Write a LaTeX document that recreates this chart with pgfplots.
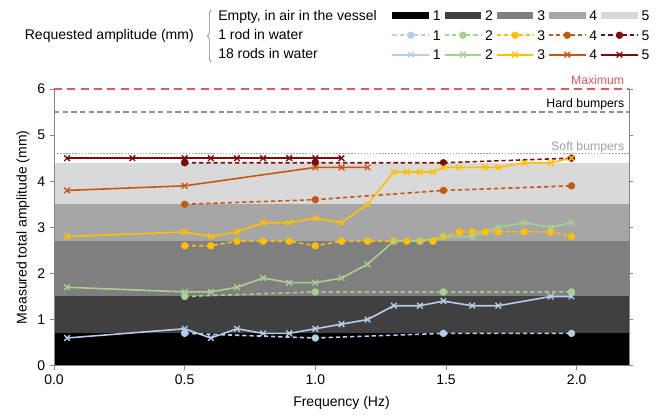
\documentclass[border=0pt]{standalone}
\usepackage{fontspec}
\setmainfont{Liberation Sans}
\usepackage{pgfplots}
\pgfplotsset{compat=1.18}
\usetikzlibrary{decorations.pathreplacing}
\definecolor{s1}{HTML}{B4CDE8}
\definecolor{s2}{HTML}{A9D18E}
\definecolor{s3}{HTML}{FFC000}
\definecolor{s4}{HTML}{C65911}
\definecolor{s5}{HTML}{7B0C0C}
\definecolor{b2}{HTML}{404040}
\definecolor{b3}{HTML}{7F7F7F}
\definecolor{b4}{HTML}{A6A6A6}
\definecolor{b5}{HTML}{D9D9D9}
\definecolor{maxred}{HTML}{E05A5A}
\definecolor{bumpgray}{HTML}{8F8F8F}
\definecolor{softgray}{HTML}{A0A0A0}
\definecolor{axisgray}{HTML}{868686}
\pgfplotsset{
  bandlegend/.style={legend image code/.code={\fill[##1] (0pt,-2.5pt) rectangle (27.5pt,2.5pt);}},
  linelegend/.style={legend image code/.code={\draw[mark repeat=2,mark phase=2,##1] plot coordinates {(0pt,0pt) (13.75pt,0pt) (27.5pt,0pt)};}},
  band/.style={fill=#1, draw=none, bandlegend},
  dsh/.style={color=#1, line width=1.2pt, dash pattern=on 3.2pt off 2.2pt, mark=*, mark size=2.5pt, mark options={solid, fill=#1, draw=#1, line width=0.5pt}, linelegend},
  sld/.style={color=#1, line width=1.2pt, mark=x, mark size=3pt, mark options={solid, line width=1pt}, linelegend},
}
\begin{document}
\fontsize{10.5}{12.6}\selectfont
\begin{tikzpicture}
\begin{axis}[
  scale only axis, width=431.25pt, height=207.5pt,
  xmin=0, xmax=2.2, ymin=0, ymax=6,
  axis x line*=bottom, axis y line*=left,
  axis line style={draw=axisgray, line width=0.6pt},
  xtick={0,0.5,1,1.5,2}, ytick={0,1,2,3,4,5,6},
  xticklabel style={/pgf/number format/.cd, fixed, fixed zerofill, precision=1},
  /pgf/number format/assume math mode=true,
  tick align=outside, major tick length=3pt,
  tick style={draw=axisgray, line width=0.6pt},
  clip=false, axis on top,
  xlabel={Frequency (Hz)}, ylabel={Measured total amplitude (mm)},
  xlabel style={at={(axis description cs:0.5,0)}, anchor=center, yshift=-28pt},
  ylabel style={at={(axis description cs:-0.054,0.5)}, anchor=center},
  legend columns=5,
  legend style={draw=none, fill=none, inner sep=0pt, at={(axis description cs:0,1)}, anchor=north west,
    xshift=253pt, yshift=58.9pt, column sep=2.3pt, row sep=7pt,
    nodes={inner sep=0pt, text height=7.6pt, text depth=0pt}, cells={anchor=west}},
]
% Empty, in air in the vessel (bands)
\addplot[band=black] coordinates {(0,0) (2.2,0) (2.2,0.7) (0,0.7)};
\addplot[band=b2] coordinates {(0,0.7) (2.2,0.7) (2.2,1.5) (0,1.5)};
\addplot[band=b3] coordinates {(0,1.5) (2.2,1.5) (2.2,2.7) (0,2.7)};
\addplot[band=b4] coordinates {(0,2.7) (2.2,2.7) (2.2,3.5) (0,3.5)};
\addplot[band=b5] coordinates {(0,3.5) (2.2,3.5) (2.2,4.4) (0,4.4)};
\legend{1,2,3,4,5,1,2,3,4,5,1,2,3,4,5}
% limits
\addplot[forget plot, maxred, line width=1.2pt, dash pattern=on 6pt off 4pt] coordinates {(0,6) (2.2,6)};
\addplot[forget plot, bumpgray, line width=1.1pt, dash pattern=on 4pt off 2.5pt] coordinates {(0,5.5) (2.2,5.5)};
\addplot[forget plot, softgray, line width=1pt, dash pattern=on 1.1pt off 1.2pt] coordinates {(0,4.6) (2.2,4.6)};
% 1 rod in water
\addplot[dsh=s1] coordinates {(0.5,0.7) (1.0,0.6) (1.49,0.7) (1.98,0.7)};
\addplot[dsh=s2] coordinates {(0.5,1.5) (1.0,1.6) (1.49,1.6) (1.98,1.6)};
\addplot[dsh=s3] coordinates {(0.5,2.6) (0.6,2.6) (0.7,2.7) (0.8,2.7) (0.9,2.7) (1.0,2.6) (1.1,2.7) (1.2,2.7) (1.3,2.7) (1.35,2.7) (1.4,2.7) (1.45,2.7) (1.49,2.8) (1.55,2.9) (1.6,2.9) (1.65,2.9) (1.7,2.9) (1.8,2.9) (1.9,2.9) (1.98,2.8)};
\addplot[dsh=s4] coordinates {(0.5,3.5) (1.0,3.6) (1.49,3.8) (1.98,3.9)};
\addplot[dsh=s5] coordinates {(0.5,4.4) (1.0,4.4) (1.49,4.4) (1.98,4.5)};
% 18 rods in water
\addplot[sld=s1] coordinates {(0.05,0.6) (0.5,0.8) (0.6,0.6) (0.7,0.8) (0.8,0.7) (0.9,0.7) (1.0,0.8) (1.1,0.9) (1.2,1.0) (1.3,1.3) (1.4,1.3) (1.49,1.4) (1.6,1.3) (1.7,1.3) (1.9,1.5) (1.98,1.5)};
\addplot[sld=s2] coordinates {(0.05,1.7) (0.5,1.6) (0.6,1.6) (0.7,1.7) (0.8,1.9) (0.9,1.8) (1.0,1.8) (1.1,1.9) (1.2,2.2) (1.3,2.7) (1.4,2.7) (1.49,2.8) (1.6,2.8) (1.7,3.0) (1.8,3.1) (1.9,3.0) (1.98,3.1)};
\addplot[sld=s3] coordinates {(0.05,2.8) (0.5,2.9) (0.6,2.8) (0.7,2.9) (0.8,3.1) (0.9,3.1) (1.0,3.2) (1.1,3.1) (1.2,3.5) (1.3,4.2) (1.35,4.2) (1.4,4.2) (1.45,4.2) (1.49,4.3) (1.55,4.3) (1.65,4.3) (1.7,4.3) (1.8,4.4) (1.9,4.4) (1.98,4.5)};
\addplot[sld=s4] coordinates {(0.05,3.8) (0.5,3.9) (1.0,4.3) (1.1,4.3) (1.2,4.3)};
\addplot[sld=s5] coordinates {(0.05,4.5) (0.3,4.5) (0.5,4.5) (0.6,4.5) (0.7,4.5) (0.8,4.5) (0.9,4.5) (1.0,4.5) (1.1,4.5)};
% annotations
\node[anchor=base east, inner sep=0pt, text=maxred, font=\fontsize{9.2}{11}\selectfont, xshift=-3.4pt, yshift=3.45pt] at (axis cs:2.2,6) {Maximum};
\node[anchor=base east, inner sep=0pt, text=black, font=\fontsize{9.2}{11}\selectfont, xshift=-3.4pt, yshift=3.2pt] at (axis cs:2.2,5.5) {Hard bumpers};
\node[anchor=base east, inner sep=0pt, text=softgray, font=\fontsize{9.2}{11}\selectfont, xshift=-3.4pt, yshift=2.4pt] at (axis cs:2.2,4.6) {Soft bumpers};
\coordinate (TL) at (axis description cs:0,1);
\coordinate (BL) at (axis description cs:0,0);
\coordinate (TR) at (axis description cs:1,1);
\end{axis}
\begin{axis}[
  scale only axis, width=431.25pt, height=207.5pt,
  xmin=0, xmax=2.2, ymin=0, ymax=6,
  axis x line=none, axis y line*=right,
  ytick={0,1,2,3,4,5,6}, yticklabels={},
  tick align=outside, major tick length=3pt,
  axis line style={draw=axisgray, line width=0.6pt},
  tick style={draw=axisgray, line width=0.6pt},
]
\end{axis}
\node[anchor=base east, inner sep=0pt] at ([shift={(105pt,36.75pt)}]TL) {Requested amplitude (mm)};
\node[anchor=base west, inner sep=0pt] at ([shift={(123pt,51.4pt)}]TL) {Empty, in air in the vessel};
\node[anchor=base west, inner sep=0pt] at ([shift={(123pt,36.75pt)}]TL) {1 rod in water};
\node[anchor=base west, inner sep=0pt] at ([shift={(123pt,22.5pt)}]TL) {18 rods in water};
\draw[decorate, decoration={brace, amplitude=3pt}, gray, line width=0.5pt] ([shift={(118pt,20.25pt)}]TL) -- ([shift={(118pt,59.25pt)}]TL);
\pgfresetboundingbox
\path ([shift={(-40.5pt,-40pt)}]BL) rectangle ([shift={(26.25pt,66.75pt)}]TR);
\end{tikzpicture}
\end{document}
